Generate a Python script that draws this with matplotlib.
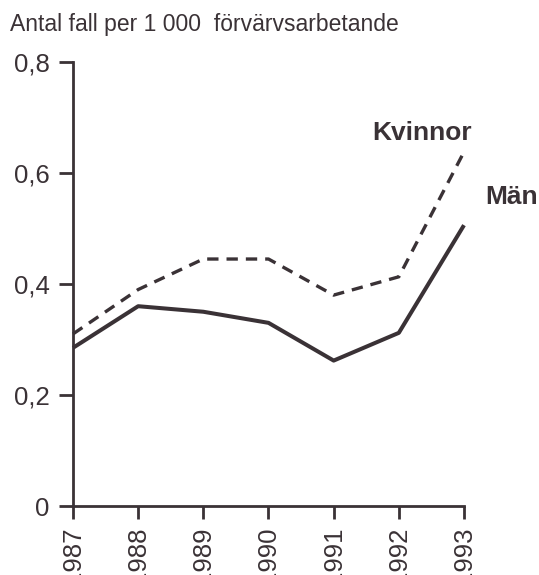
import matplotlib
matplotlib.use('Agg')

import matplotlib.pyplot as plt

years = [1987, 1988, 1989, 1990, 1991, 1992, 1993]
kvinnor = [0.31, 0.39, 0.445, 0.445, 0.38, 0.413, 0.638]
man = [0.285, 0.36, 0.35, 0.33, 0.262, 0.312, 0.506]
yticks = [0, 0.2, 0.4, 0.6, 0.8]
ytick_labels = ["0", "0,2", "0,4", "0,6", "0,8"]

ink = "#3a3236"


def main():
    plt.rcParams['font.family'] = ['Liberation Sans', 'DejaVu Sans']

    fig = plt.figure(figsize=(5.39, 5.75), dpi=100)
    ax = fig.add_axes([73 / 539, 69 / 575, 391 / 539, 444 / 575])

    ax.plot(years, man, color=ink, lw=2.9, solid_capstyle='butt', clip_on=False)
    ax.plot(years, kvinnor, color=ink, lw=2.4, dashes=(3.4, 2.4), clip_on=False)

    ax.set_xlim(years[0], years[-1])
    ax.set_ylim(0, 0.8)

    ax.set_xticks(years)
    ax.set_xticklabels([str(y) for y in years], rotation=90, fontsize=18.5, color=ink)
    ax.set_yticks(yticks)
    ax.set_yticklabels(ytick_labels, fontsize=18.5, color=ink)

    for side in ['top', 'right']:
        ax.spines[side].set_visible(False)
    for side in ['left', 'bottom']:
        ax.spines[side].set_color(ink)
        ax.spines[side].set_linewidth(2.0)
    ax.tick_params(axis='y', direction='out', length=10, width=2.0, color=ink, pad=7)
    ax.tick_params(axis='x', direction='out', length=9, width=2.0, color=ink, pad=6)

    fig.text(10 / 539, 1 - 24 / 575, "Antal fall per 1 000  förvärvsarbetande",
             fontsize=16.5, color=ink, va='center', ha='left')

    ax.text(1991.59, 0.672, "Kvinnor", fontsize=19, fontweight='bold', color=ink,
            ha='left', va='center')
    ax.text(1993.32, 0.557, "Män", fontsize=19, fontweight='bold', color=ink,
            ha='left', va='center', clip_on=False)

    plt.savefig("out.png", dpi=100)
    plt.close()


if __name__ == "__main__":
    main()
